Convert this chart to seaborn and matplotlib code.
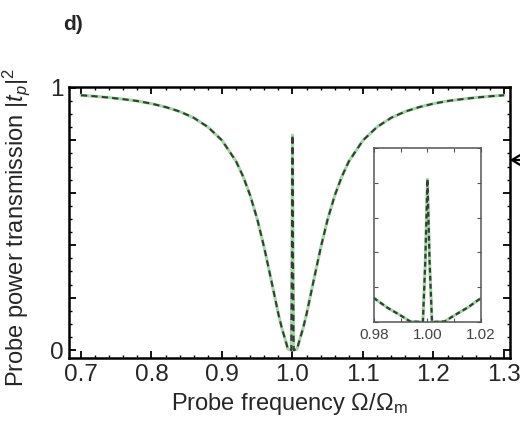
import matplotlib
matplotlib.use("Agg")
import matplotlib.pyplot as plt
import seaborn as sns
import pandas as pd
from matplotlib.ticker import MultipleLocator, FixedLocator, NullFormatter

# Probe frequency (in units of the mechanical frequency) and power transmission
freq = [0.700, 0.720, 0.740, 0.760, 0.780, 0.800, 0.820, 0.840, 0.860, 0.880,
        0.900, 0.920, 0.930, 0.940, 0.950, 0.960, 0.970, 0.980, 0.985, 0.990,
        0.9935, 0.9983, 0.9992, 1.0000, 1.0008, 1.0017, 1.0065, 1.010, 1.015,
        1.020, 1.030, 1.040, 1.050, 1.060, 1.070, 1.080, 1.100, 1.120, 1.140,
        1.160, 1.180, 1.200, 1.220, 1.240, 1.260, 1.280, 1.300]
trans = [0.972, 0.968, 0.963, 0.957, 0.950, 0.940, 0.927, 0.910, 0.886, 0.851,
         0.800, 0.720, 0.662, 0.590, 0.500, 0.390, 0.265, 0.138, 0.083, 0.038,
         0.004, 0.000, 0.350, 0.820, 0.350, 0.000, 0.004, 0.038, 0.083,
         0.138, 0.265, 0.390, 0.500, 0.590, 0.662, 0.720, 0.800, 0.851, 0.886,
         0.910, 0.927, 0.940, 0.950, 0.957, 0.963, 0.968, 0.972]

main_xticks = [0.7, 0.8, 0.9, 1.0, 1.1, 1.2, 1.3]
main_xlabels = ["0.7", "0.8", "0.9", "1.0", "1.1", "1.2", "1.3"]
main_yticks = [0.0, 0.2, 0.4, 0.6, 0.8, 1.0]
main_ylabels = ["0", "", "", "", "", "1"]
inset_xticks = [0.98, 1.00, 1.02]
inset_xlabels = ["0.98", "1.00", "1.02"]

df = pd.DataFrame({"freq": freq, "trans": trans})

sns.set_theme(style="ticks")
plt.rcParams["font.family"] = ["Liberation Sans", "DejaVu Sans"]
plt.rcParams["mathtext.fontset"] = "custom"
plt.rcParams["mathtext.rm"] = "Liberation Sans"
plt.rcParams["mathtext.it"] = "Liberation Sans:italic"

GREEN = "#9fdaa2"
DARK = "#3a3a3a"

fig = plt.figure(figsize=(5.2, 4.3), dpi=100)
ax = fig.add_axes([0.1327, 0.1674, 0.848, 0.630])


def draw_curves(a, lw_green, lw_dash, dashes):
    sns.lineplot(data=df, x="freq", y="trans", ax=a, color=GREEN, lw=lw_green,
                 estimator=None, sort=False)
    sns.lineplot(data=df, x="freq", y="trans", ax=a, color=DARK, lw=lw_dash,
                 estimator=None, sort=False, dashes=False, linestyle=(0, dashes))


draw_curves(ax, 2.2, 1.5, (3.0, 2.0))
ax.set_xlim(0.683, 1.3085)
ax.set_ylim(-0.03, 1.003)
ax.set_xticks(main_xticks)
ax.set_xticklabels(main_xlabels)
ax.set_yticks(main_yticks)
ax.set_yticklabels(main_ylabels)
ax.xaxis.set_minor_locator(MultipleLocator(0.02))
ax.yaxis.set_minor_locator(MultipleLocator(0.05))
ax.tick_params(which="both", direction="in", top=True, right=True, color="black")
ax.tick_params(which="major", length=5, width=1.3, labelsize=17.5, pad=4)
ax.tick_params(which="minor", length=2.5, width=1.0)
for s in ax.spines.values():
    s.set_linewidth(1.8)
    s.set_color("black")
ax.set_xlabel(r"Probe frequency $\Omega/\Omega_{\rm m}$", fontsize=17, labelpad=4)
ax.set_ylabel(r"Probe power transmission $|t_p|^2$", fontsize=17)
ax.yaxis.set_label_coords(-0.085, 0.48)

# Zoom on the transparency window
ins = fig.add_axes([0.719, 0.251, 0.206, 0.405])
draw_curves(ins, 2.2, 1.6, (2.2, 1.4))
ins.set_xlim(0.98, 1.02)
ins.set_ylim(0.0, 1.0)
ins.set_xticks(inset_xticks)
ins.set_xticklabels(inset_xlabels)
ins.xaxis.set_minor_locator(FixedLocator([0.99, 1.01]))
ins.yaxis.set_major_locator(MultipleLocator(0.2))
ins.yaxis.set_major_formatter(NullFormatter())
ins.set_xlabel("")
ins.set_ylabel("")
ins.tick_params(which="both", direction="in", top=True, right=True, color="#555555",
                length=3, width=0.8, labelsize=11, labelcolor="#444444", pad=4)
for s in ins.spines.values():
    s.set_linewidth(1.1)
    s.set_color("#555555")
ins.set_facecolor("white")

fig.text(0.121, 0.944, "d)", fontsize=15, fontweight="bold", ha="left", va="center")

# Pointer arrow at the right edge of the frame
ax.annotate("", xy=(507, 270), xycoords="figure pixels",
            xytext=(545, 270), textcoords="figure pixels",
            arrowprops=dict(arrowstyle="->,head_length=0.5,head_width=0.3",
                            lw=1.6, color="black", mutation_scale=20),
            annotation_clip=False)

fig.savefig("out.png", dpi=100)
